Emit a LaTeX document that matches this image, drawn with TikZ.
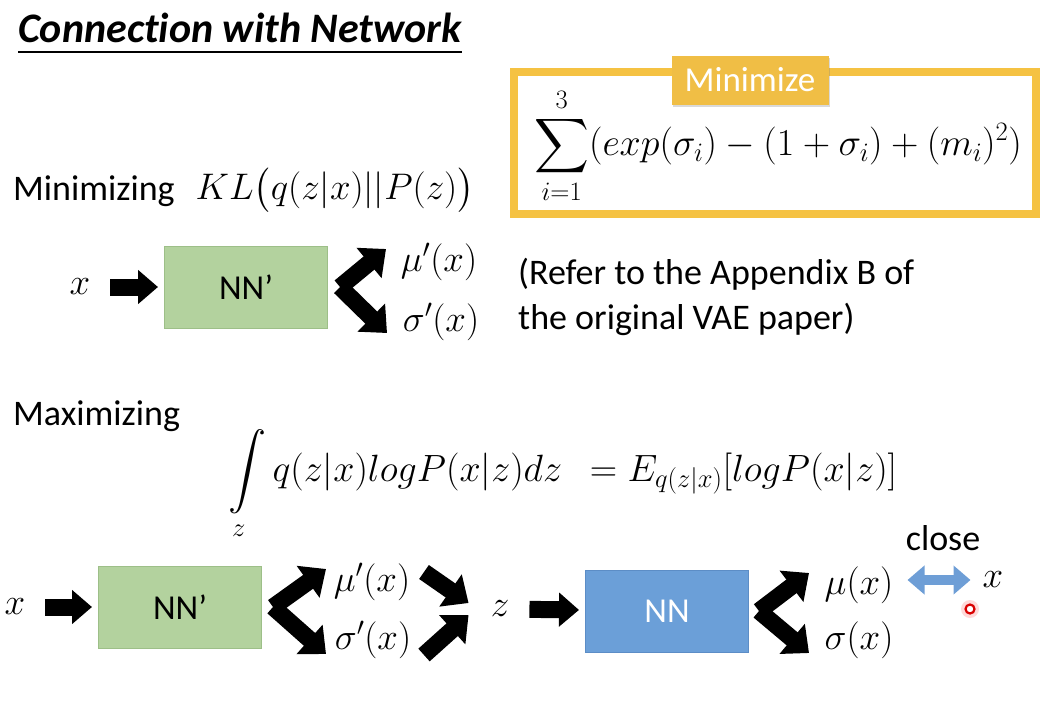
\RequirePackage{fix-cm}
\documentclass[tikz,border=0pt]{standalone}
\usepackage{exscale}
\usepackage{fontspec}
\setmainfont{Carlito}[Ligatures=CommonOff]
\usetikzlibrary{arrows.meta,shadows}
\DeclareFontShape{OMX}{cmex}{m}{n}{<->cmex10}{}
\definecolor{gold}{HTML}{F5C243}
\definecolor{goldlbl}{HTML}{F0BE45}
\definecolor{nngreen}{HTML}{B3D29E}
\definecolor{nngreenb}{HTML}{9DBF88}
\definecolor{nnblue}{HTML}{6B9FD8}
\definecolor{nnblueb}{HTML}{5C8DC6}
\definecolor{dblblue}{HTML}{6E9ED6}
\begin{document}
\begin{tikzpicture}[x=1pt,y=-1pt,
  txt/.style={font=\fontsize{36}{45}\selectfont, inner sep=0pt},
  mth/.style={font=\fontsize{37}{44}\selectfont, inner sep=0pt},
  bigmth/.style={font=\fontsize{38}{46}\selectfont, inner sep=0pt},
  nnbox/.style={minimum width=163pt, minimum height=82pt, inner sep=0pt, font=\fontsize{35}{42}\selectfont, line width=1pt},
  blk/.style={line width=17pt, -{Triangle[length=20pt,width=33pt]}},
  fork/.style={line width=17pt, -{Triangle[length=22pt,width=38pt]}},
  dbl/.style={line width=10pt, dblblue, {Triangle[length=17pt,width=28pt]}-{Triangle[length=17pt,width=28pt]}},
]
\useasboundingbox (0,0) rectangle (1048,704);
% title
\node[inner sep=0pt, anchor=base west, font=\fontsize{42}{50}\selectfont\bfseries\itshape] (title) at (18,42) {Connection with Network};
\draw[line width=2pt] ([yshift=-10pt]title.base west) -- ([yshift=-10pt]title.base east);
% minimize box
\node[draw=gold, line width=8pt, minimum width=522pt, minimum height=142pt, inner sep=0pt] (minbox) at (775,143) {};
\node[fill=goldlbl, minimum width=157pt, minimum height=49pt, text=white, inner sep=0pt, font=\fontsize{35}{42}\selectfont, drop shadow={opacity=0.3, shadow xshift=1pt, shadow yshift=-2pt}] (minlbl) at (750,80) {Minimize};
\node[bigmth] (sum) at (778,146) {$\displaystyle\sum_{i=1}^{3}(exp(\sigma_i)-(1+\sigma_i)+(m_i)^2)$};
% minimizing
\node[txt, anchor=base west] (minz) at (13,200) {Minimizing};
\node[mth] (kl) at (335,190) {$KL\bigl(q(z|x)||P(z)\bigr)$};
% top row
\node[mth] (x1) at (80,287) {$x$};
\node[nnbox, draw=nngreenb, fill=nngreen] (nn1) at (246,287) {NN’};
\draw[blk, shorten <=20pt, shorten >=6pt] (x1) -- (nn1);
\node[mth] (mu1) at (439,262) {$\mu'(x)$};
\node[mth] (sig1) at (441,322) {$\sigma'(x)$};
\coordinate (f1) at (340,287);
\coordinate (t1u) at (386,249);
\coordinate (t1d) at (387,333);
\draw[fork] (f1) -- (t1u);
\draw[fork] (f1) -- (t1d);
\node[txt, anchor=north west, align=left] (refer) at (518,258) {(Refer to the Appendix B of\\the original VAE paper)};
% maximizing
\node[txt, anchor=base west] (maxz) at (13,425) {Maximizing};
\node[bigmth, anchor=base west] (intg) at (228,481) {$\displaystyle\int\limits_z q(z|x)logP(x|z)dz\ \ = E_{q(z|x)}[logP(x|z)]$};
% bottom row
\node[mth] (x2) at (15,607) {$x$};
\node[nnbox, draw=nngreenb, fill=nngreen] (nn2) at (180,607) {NN’};
\draw[blk, shorten <=20pt, shorten >=6pt] (x2) -- (nn2);
\node[mth] (mu2) at (372,582) {$\mu'(x)$};
\node[mth] (sig2) at (373,640) {$\sigma'(x)$};
\coordinate (f2) at (273,607);
\coordinate (t2u) at (326,569);
\coordinate (t2d) at (326,654);
\draw[fork] (f2) -- (t2u);
\draw[fork] (f2) -- (t2d);
\node[mth] (z) at (500,609) {$z$};
\coordinate (s2u) at (424,572);
\coordinate (s2d) at (424,655);
\draw[fork] (s2u) -- ([shift={(-22,-6)}]z.west);
\draw[fork] (s2d) -- ([shift={(-22,6)}]z.west);
\node[nnbox, draw=nnblueb, fill=nnblue, text=white] (nn3) at (667,611) {NN};
\draw[blk, shorten <=20pt, shorten >=6pt] (z) -- (nn3);
\node[mth] (mu3) at (859,585) {$\mu(x)$};
\node[mth] (sig3) at (859,640) {$\sigma(x)$};
\coordinate (f3) at (759,611);
\coordinate (t3u) at (809,573);
\coordinate (t3d) at (809,653);
\draw[fork] (f3) -- (t3u);
\draw[fork] (f3) -- (t3d);
\node[mth] (x3) at (993,580) {$x$};
\node[txt] (close) at (943,538) {close};
\draw[dbl, shorten <=14pt, shorten >=12pt] (mu3.east |- x3) -- (x3.west);
% pointer dot
\fill[red!25, opacity=0.6] (970,609) circle (9pt);
\node[circle, draw=red!85!black, fill=white, line width=2.2pt, minimum size=9pt, inner sep=0pt] (dot) at (970,609) {};
\end{tikzpicture}
\end{document}
